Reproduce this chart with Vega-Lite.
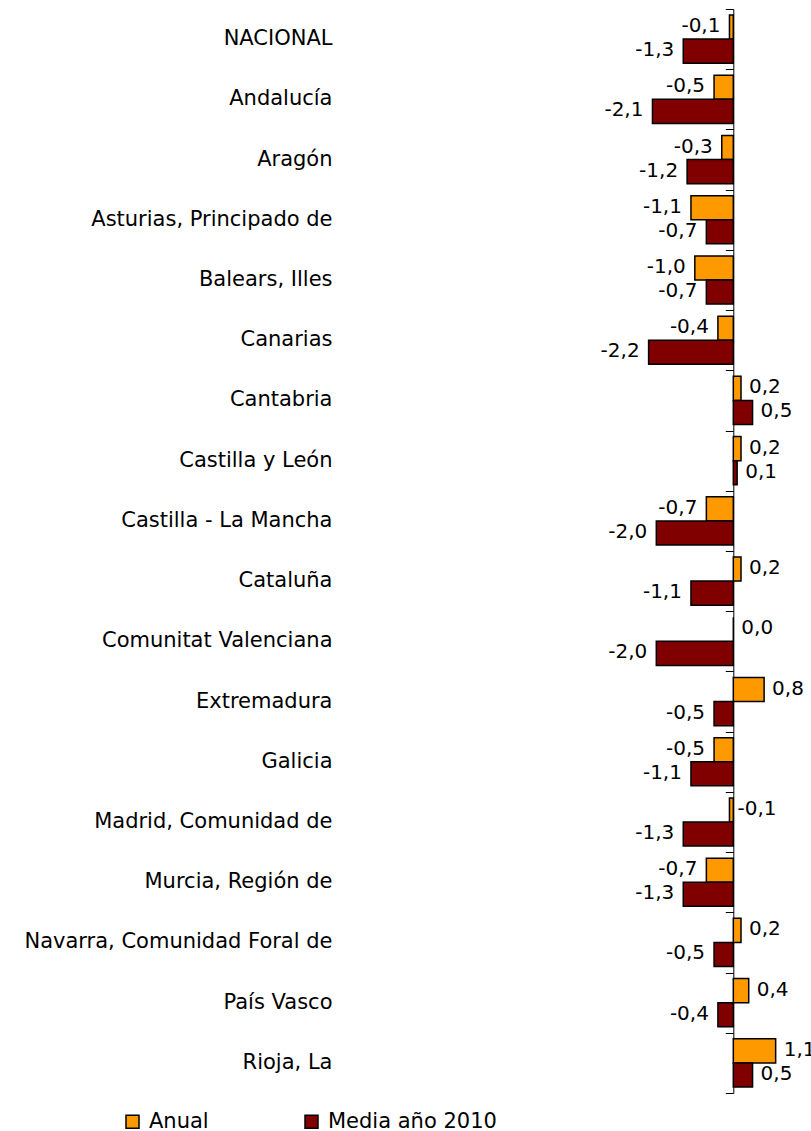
{
  "$schema": "https://vega.github.io/schema/vega-lite/v6.json",
  "width": 471,
  "height": 1084,
  "autosize": {"type": "none"},
  "padding": {"left": 340, "top": 9, "right": 0, "bottom": 38},
  "config": {
    "locale": {"number": {"decimal": ",", "thousands": ".", "grouping": [3], "currency": ["", " €"], "minus": "-"}},
    "view": {"stroke": null},
    "font": "DejaVu Sans",
    "background": "#ffffff"
  },
  "data": {
    "values": [
      {"region": "NACIONAL", "serie": "Anual", "value": -0.1},
      {"region": "NACIONAL", "serie": "Media año 2010", "value": -1.3},
      {"region": "Andalucía", "serie": "Anual", "value": -0.5},
      {"region": "Andalucía", "serie": "Media año 2010", "value": -2.1},
      {"region": "Aragón", "serie": "Anual", "value": -0.3},
      {"region": "Aragón", "serie": "Media año 2010", "value": -1.2},
      {"region": "Asturias, Principado de", "serie": "Anual", "value": -1.1},
      {"region": "Asturias, Principado de", "serie": "Media año 2010", "value": -0.7},
      {"region": "Balears, Illes", "serie": "Anual", "value": -1.0},
      {"region": "Balears, Illes", "serie": "Media año 2010", "value": -0.7},
      {"region": "Canarias", "serie": "Anual", "value": -0.4},
      {"region": "Canarias", "serie": "Media año 2010", "value": -2.2},
      {"region": "Cantabria", "serie": "Anual", "value": 0.2},
      {"region": "Cantabria", "serie": "Media año 2010", "value": 0.5},
      {"region": "Castilla y León", "serie": "Anual", "value": 0.2},
      {"region": "Castilla y León", "serie": "Media año 2010", "value": 0.1},
      {"region": "Castilla - La Mancha", "serie": "Anual", "value": -0.7},
      {"region": "Castilla - La Mancha", "serie": "Media año 2010", "value": -2.0},
      {"region": "Cataluña", "serie": "Anual", "value": 0.2},
      {"region": "Cataluña", "serie": "Media año 2010", "value": -1.1},
      {"region": "Comunitat Valenciana", "serie": "Anual", "value": 0.0},
      {"region": "Comunitat Valenciana", "serie": "Media año 2010", "value": -2.0},
      {"region": "Extremadura", "serie": "Anual", "value": 0.8},
      {"region": "Extremadura", "serie": "Media año 2010", "value": -0.5},
      {"region": "Galicia", "serie": "Anual", "value": -0.5},
      {"region": "Galicia", "serie": "Media año 2010", "value": -1.1},
      {"region": "Madrid, Comunidad de", "serie": "Anual", "value": -0.1},
      {"region": "Madrid, Comunidad de", "serie": "Media año 2010", "value": -1.3},
      {"region": "Murcia, Región de", "serie": "Anual", "value": -0.7},
      {"region": "Murcia, Región de", "serie": "Media año 2010", "value": -1.3},
      {"region": "Navarra, Comunidad Foral de", "serie": "Anual", "value": 0.2},
      {"region": "Navarra, Comunidad Foral de", "serie": "Media año 2010", "value": -0.5},
      {"region": "País Vasco", "serie": "Anual", "value": 0.4},
      {"region": "País Vasco", "serie": "Media año 2010", "value": -0.4},
      {"region": "Rioja, La", "serie": "Anual", "value": 1.1},
      {"region": "Rioja, La", "serie": "Media año 2010", "value": 0.5}
    ]
  },
  "encoding": {
    "yOffset": {"field": "serie", "type": "nominal", "sort": ["Anual", "Media año 2010"], "scale": {"paddingInner": 0, "paddingOuter": 0.25}},
    "x": {"field": "value", "type": "quantitative", "scale": {"domain": [-10.216, 2.018], "nice": false, "zero": false}, "axis": null}
  },
  "layer": [
    {
      "mark": {"type": "bar", "stroke": "#000000", "strokeWidth": 1.5},
      "encoding": {
        "y": {"field": "region", "type": "nominal", "sort": null, "scale": {"paddingInner": 0, "paddingOuter": 0},
          "axis": {"title": null, "domain": false, "ticks": false, "tickSize": 0, "labelPadding": 8, "labelFont": "DejaVu Sans", "labelFontSize": 21, "labelColor": "#000000", "labelLimit": 400}},
        "color": {"field": "serie", "type": "nominal",
          "scale": {"domain": ["Anual", "Media año 2010"], "range": ["#FF9900", "#800000"]},
          "legend": {"title": null, "orient": "none", "legendX": -218, "legendY": 1102, "direction": "horizontal", "columns": 2, "columnPadding": 92, "symbolType": "square", "symbolSize": 169, "symbolStrokeColor": "#000000", "symbolStrokeWidth": 1.5, "labelFont": "DejaVu Sans", "labelFontSize": 21, "labelColor": "#000000", "labelOffset": 6, "labelLimit": 300, "padding": 0, "symbolOffset": 0}}
      }
    },
    {
      "transform": [{"filter": "datum.value < 0 && !(datum.region === 'Madrid, Comunidad de' && datum.serie === 'Anual')"}],
      "mark": {"type": "text", "align": "right", "baseline": "middle", "dx": -9, "dy": -1, "fontSize": 20, "font": "DejaVu Sans", "color": "#000000"},
      "encoding": {
        "y": {"field": "region", "type": "nominal", "sort": null, "axis": null},
        "text": {"field": "value", "type": "quantitative", "format": ".1f"}
      }
    },
    {
      "transform": [{"filter": "datum.value >= 0 || (datum.region === 'Madrid, Comunidad de' && datum.serie === 'Anual')"}],
      "mark": {"type": "text", "align": "left", "baseline": "middle", "dx": 8, "dy": -1, "fontSize": 20, "font": "DejaVu Sans", "color": "#000000"},
      "encoding": {
        "y": {"field": "region", "type": "nominal", "sort": null,
          "axis": {"title": null, "orient": "left", "labels": false, "domain": true, "domainColor": "#000000", "domainWidth": 1, "ticks": true, "tickBand": "extent", "tickSize": 8, "tickColor": "#000000", "tickWidth": 1, "offset": -393.3}},
        "text": {"field": "value", "type": "quantitative", "format": ".1f"}
      }
    }
  ],
  "resolve": {"axis": {"y": "independent"}}
}
